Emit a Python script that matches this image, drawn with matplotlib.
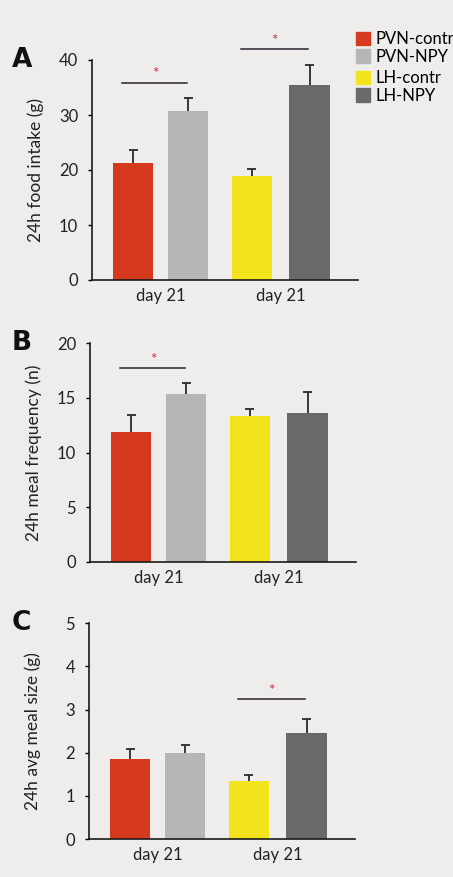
import numpy as np
import matplotlib
matplotlib.use('Agg')
import matplotlib.pyplot as plt
from matplotlib.patches import Patch

plt.rcParams['font.family'] = ['Lato', 'DejaVu Sans']

## Data
groups = ['PVN-contr', 'PVN-NPY', 'LH-contr', 'LH-NPY']
colors = ['#d63a1e', '#b8b6b5', '#f2e31c', '#6a6967']
day_labels = ['day 21', 'day 21']

food = [21.3, 30.8, 19.0, 35.4]
food_err = [2.3, 2.3, 1.1, 3.7]
freq = [11.85, 15.4, 13.3, 13.6]
freq_err = [1.55, 0.95, 0.65, 1.9]
meal = [1.86, 2.0, 1.34, 2.45]
meal_err = [0.22, 0.17, 0.14, 0.33]

# significance: (bar i, bar j, height of line)
sig_food = [(0, 1, 35.9), (2, 3, 42.0)]
sig_freq = [(0, 1, 17.7)]
sig_meal = [(2, 3, 3.25)]

## Layout (pixels of the 453x877 picture)
W, H = 453, 877
x_pos = np.array([0, 1, 2.15, 3.2])
bar_w = 0.73
cap = 0.085

panels = [
    # letter, ylabel, vals, errs, ylim, yticks, sig, left, bottom, top
    ('A', '24h food intake (g)', food, food_err, 40, np.arange(0, 41, 10), sig_food, 92, 280, 60),
    ('B', '24h meal frequency (n)', freq, freq_err, 20, np.arange(0, 21, 5), sig_freq, 90, 561.7, 343.3),
    ('C', '24h avg meal size (g)', meal, meal_err, 5, np.arange(0, 6, 1), sig_meal, 89, 839, 623.3),
]

fig = plt.figure(figsize=(W / 100, H / 100), dpi=100)
fig.patch.set_facecolor('#eeedeb')

for letter, ylab, vals, errs, ymax, yticks, sig, left, bottom, top in panels:
    ax = fig.add_axes([left / W, 1 - bottom / H, 266 / W, (bottom - top) / H])
    ax.set_facecolor('none')
    vals = np.array(vals)
    errs = np.array(errs)
    ax.bar(x_pos, vals, width=bar_w, color=colors, zorder=2)
    # upper error bars only, no cap at the bar top
    ax.vlines(x_pos, vals, vals + errs, color='#2a2a2a', lw=1.3, zorder=3)
    ax.hlines(vals + errs, x_pos - cap, x_pos + cap, color='#2a2a2a', lw=1.3, zorder=3)
    ax.set_xlim(-0.75, 4.08)
    ax.set_ylim(0, ymax)
    ax.set_yticks(yticks)
    ax.set_xticks([(x_pos[0] + x_pos[1]) / 2, (x_pos[2] + x_pos[3]) / 2])
    ax.set_xticklabels(day_labels, fontsize=12, color='#222222')
    ax.tick_params(axis='x', length=0, pad=6)
    ax.tick_params(axis='y', length=3, pad=7, labelsize=12, labelcolor='#222222', width=1)
    for s in ['top', 'right']:
        ax.spines[s].set_visible(False)
    for s in ['left', 'bottom']:
        ax.spines[s].set_linewidth(1.2)
        ax.spines[s].set_color('#1a1a1a')
    ax.set_ylabel(ylab, fontsize=12.5, color='#222222')
    ax.yaxis.set_label_coords(-0.18, 0.5)

    for i, j, h in sig:
        x0, x1 = x_pos[i] - 0.2, x_pos[j] - 0.02
        ax.plot([x0, x1], [h, h], color='#2a2233', lw=1.1, clip_on=False)
        ax.text((x0 + x1) / 2, h + ymax * 0.005, '*', color='#c4304e',
                fontsize=11, ha='center', va='bottom', clip_on=False)

    fig.text(12 / W, 1 - top / H, letter, fontsize=19, fontweight='bold',
             color='#111111', va='center', ha='left', family='DejaVu Sans')

# legend (two pairs)
leg_kw = dict(frameon=False, fontsize=12, handlelength=0.85, handleheight=0.85,
              labelspacing=0.1, handletextpad=0.3, borderpad=0, borderaxespad=0)
h1 = [Patch(color=c, label=g) for c, g in zip(colors[:2], groups[:2])]
h2 = [Patch(color=c, label=g) for c, g in zip(colors[2:], groups[2:])]
fig.legend(handles=h1, loc='upper left', bbox_to_anchor=(356 / W, 1 - 31 / H), **leg_kw)
fig.legend(handles=h2, loc='upper left', bbox_to_anchor=(356 / W, 1 - 70 / H), **leg_kw)

plt.savefig('out.png', dpi=100, facecolor=fig.get_facecolor())
